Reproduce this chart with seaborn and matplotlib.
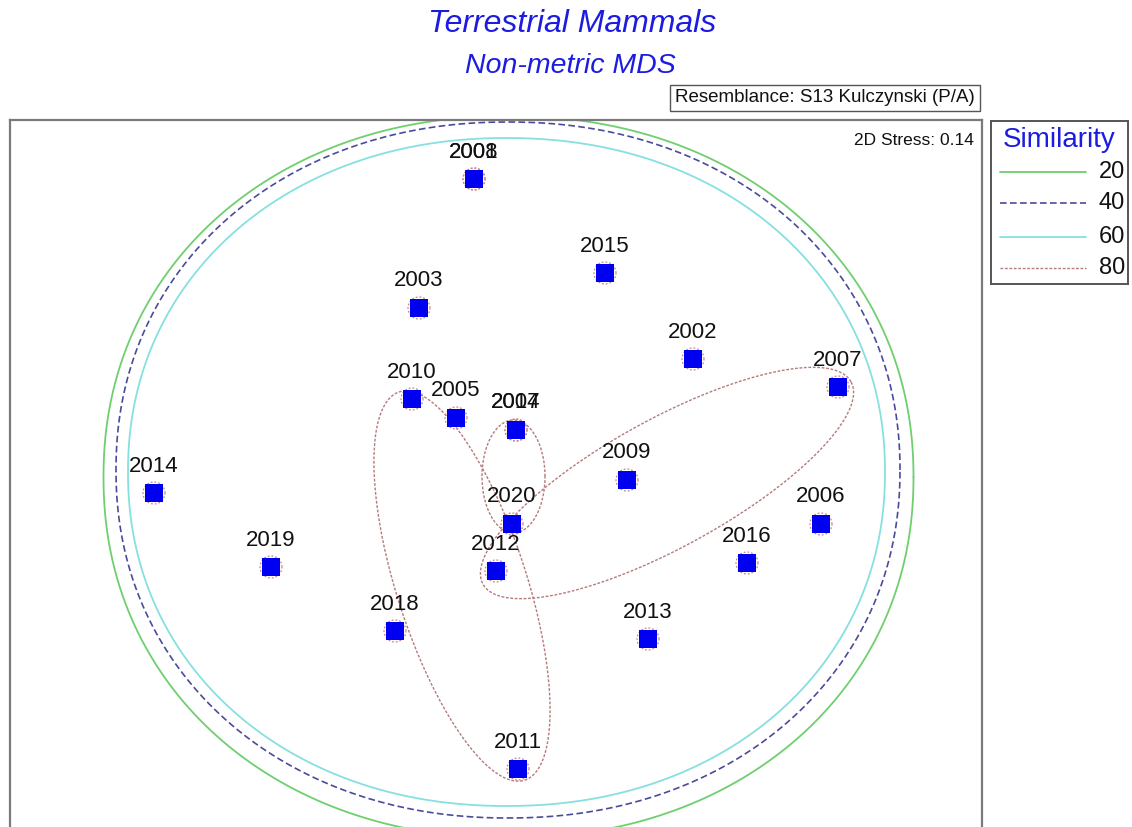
import numpy as np
import pandas as pd
import matplotlib
matplotlib.use("Agg")
import matplotlib.pyplot as plt
import seaborn as sns

# --- MDS configuration (sample years and 2D coordinates) ---
years = ["2008", "2001", "2015", "2003", "2002", "2007", "2010", "2005",
         "2004", "2017", "2009", "2014", "2020", "2006", "2012", "2019",
         "2016", "2018", "2013", "2011"]
mds1 = [-0.41, -0.41, 0.90, -0.96, 1.78, 3.23, -1.03, -0.59,
        0.01, 0.01, 1.12, -3.61, -0.03, 3.06, -0.19, -2.44,
        2.32, -1.20, 1.33, 0.03]
mds2 = [3.01, 3.01, 2.07, 1.72, 1.21, 0.93, 0.81, 0.62,
        0.50, 0.50, 0.00, -0.13, -0.44, -0.44, -0.91, -0.87,
        -0.83, -1.51, -1.59, -2.89]

# --- similarity contours ---
levels = ["20", "40", "60", "80"]
level_colors = ["#6fcf6f", "#4b4b9b", "#86e0e0", "#b57a7a"]

# broad contours (20, 40, 60): rounded superellipses
broad_cx = [-0.065, -0.07, -0.085]
broad_cy = [0.03, 0.10, 0.08]
broad_a = [4.05, 3.92, 3.785]
broad_b = [3.61, 3.48, 3.34]
broad_power = 2.1

# 80% groups: rotated ellipses
group_cx = [-0.015, -0.53, 1.52]
group_cy = [0.035, -1.06, -0.03]
group_a = [0.315, 2.04, 2.10]
group_b = [0.565, 0.65, 0.64]
group_angle = [0.0, -72.1, 28.8]
single_radius = 0.11

df = pd.DataFrame({"year": years, "mds1": mds1, "mds2": mds2})

sns.set_style("white")
plt.rcParams["font.family"] = ["Liberation Sans", "DejaVu Sans"]

fig = plt.figure(figsize=(11.32, 8.27), dpi=100)
ax = fig.add_axes([10 / 1132, -13 / 827, 972 / 1132, 720 / 827])
ax.set_xlim(-5.05, 4.67)
ax.set_ylim(-3.60, 3.60)

t = np.linspace(0, 2 * np.pi, 600)
styles = [dict(ls="-", lw=1.3), dict(ls=(0, (4, 2)), lw=1.2),
          dict(ls="-", lw=1.3), dict(ls=(0, (2, 1.2)), lw=1.0)]

for i in range(3):
    c, s = np.cos(t), np.sin(t)
    ex = 2.0 / broad_power
    x = broad_cx[i] + broad_a[i] * np.sign(c) * np.abs(c) ** ex
    y = broad_cy[i] + broad_b[i] * np.sign(s) * np.abs(s) ** ex
    ax.plot(x, y, color=level_colors[i], **styles[i], zorder=1)

for i in range(3):
    th = np.deg2rad(group_angle[i])
    u = group_a[i] * np.cos(t)
    v = group_b[i] * np.sin(t)
    x = group_cx[i] + u * np.cos(th) - v * np.sin(th)
    y = group_cy[i] + u * np.sin(th) + v * np.cos(th)
    ax.plot(x, y, color=level_colors[3], **styles[3], zorder=1)

for xi, yi in zip(mds1, mds2):
    ax.plot(xi + single_radius * np.cos(t), yi + single_radius * np.sin(t),
            color="#c98888", ls=(0, (1.5, 1.5)), lw=0.9, zorder=2)

sns.scatterplot(data=df, x="mds1", y="mds2", marker="s", s=150,
                color="#0000f0", edgecolor="none", linewidth=0,
                ax=ax, zorder=3, legend=False)

for _, r in df.iterrows():
    ax.text(r.mds1, r.mds2 + 0.215, r.year, ha="center", va="baseline",
            fontsize=16, color="#111111", zorder=4)

ax.set_xlabel("")
ax.set_ylabel("")
ax.set_xticks([])
ax.set_yticks([])
for sp in ax.spines.values():
    sp.set_color("#7a7a7a")
    sp.set_linewidth(1.6)

ax.text(0.992, 0.982, "2D Stress: 0.14", transform=ax.transAxes,
        ha="right", va="top", fontsize=12.5, color="#111111")

# titles
fig.text(572 / 1132, 1 - 24 / 827, "Terrestrial Mammals", ha="center",
         va="center", fontsize=23, style="italic", color="#1c1ce0")
fig.text(570 / 1132, 1 - 66 / 827, "Non-metric MDS", ha="center",
         va="center", fontsize=20.5, style="italic", color="#1c1ce0")
fig.text(825 / 1132, 1 - 98 / 827, "Resemblance: S13 Kulczynski (P/A)",
         ha="center", va="center", fontsize=13.5, color="#111111",
         bbox=dict(boxstyle="square,pad=0.25", fc="white", ec="#555555",
                   lw=1.0))

# similarity legend panel
lax = fig.add_axes([991 / 1132, 1 - 284 / 827, 137 / 1132, 163 / 827])
lax.set_xlim(0, 137)
lax.set_ylim(163, 0)
lax.set_xticks([])
lax.set_yticks([])
for sp in lax.spines.values():
    sp.set_color("#555555")
    sp.set_linewidth(1.4)
lax.text(68, 19, "Similarity", ha="center", va="center", fontsize=20,
         color="#1c1ce0")
entry_y = [51, 82, 116, 147]
for lvl, col, st, yy in zip(levels, level_colors, styles, entry_y):
    lax.plot([9, 95], [yy, yy], color=col, **st)
    lax.text(134, yy, lvl, ha="right", va="center", fontsize=17,
             color="#111111")

fig.savefig("out.png", dpi=100)
